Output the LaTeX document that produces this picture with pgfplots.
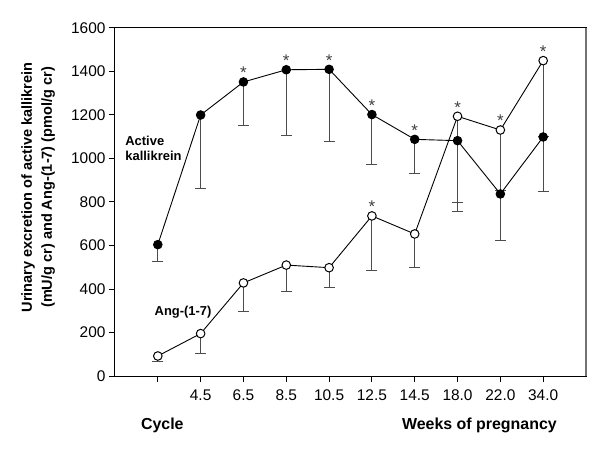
\documentclass[border=0pt]{standalone}
\usepackage{fontspec}
\setmainfont{Liberation Sans}
\usepackage{pgfplots}
\usepackage{pgfplotstable}
\pgfplotsset{compat=1.18}

% means and lower ends of the error bars, category index 0 = cycle
\pgfplotstableread{
x   y     lo
0   604   525
1   1200  860
2   1352  1151
3   1408  1108
4   1410  1077
5   1202  972
6   1088  930
7   1082  755
8   837   622
9   1099  847
}\kallikrein
\pgfplotstableread{
x   y     lo
0   92    67
1   195   104
2   428   296
3   510   388
4   498   406
5   736   484
6   653   498
7   1194  798
8   1131  855
9   1450  1100
}\ang

\begin{document}
\begin{tikzpicture}
\begin{axis}[
    scale only axis,
    width=471bp, height=348bp,
    xmin=-1, xmax=10,
    ymin=0, ymax=1600,
    xtick={0,...,9},
    xticklabels={,4.5,6.5,8.5,10.5,12.5,14.5,18.0,22.0,34.0},
    ytick={0,200,...,1600},
    tick pos=left,
    tick align=outside,
    major tick length=6bp,
    axis line style={line width=1bp},
    every tick/.style={line width=1bp, black},
    /pgf/number format/assume math mode=true,
    /pgf/number format/1000 sep={},
    ticklabel style={font=\fontsize{15.5}{18}\selectfont},
    xticklabel style={yshift=-4bp},
    every axis y label/.style={at={(axis description cs:-0.163,0.542)},
        rotate=90, anchor=center, align=center,
        font=\fontsize{14.6}{20}\selectfont\bfseries},
    ylabel={Urinary excretion of active kallikrein\\(mU/g cr) and Ang-(1-7) (pmol/g cr)},
    clip=false,
]
% Ang-(1-7), open circles
\addplot[black, line width=0.9bp, mark=*, mark size=4.3bp,
    mark options={fill=white, line width=1bp},
    error bars/.cd, y dir=minus, y explicit,
    error mark options={rotate=90, mark size=5.5bp, line width=1bp, black!70},
    error bar style={line width=1bp, black!70}]
    table[x=x, y=y, y error expr=\thisrow{y}-\thisrow{lo}] {\ang};
% active kallikrein, filled circles
\addplot[black, line width=0.9bp, mark=*, mark size=4.3bp,
    mark options={fill=black},
    error bars/.cd, y dir=minus, y explicit,
    error mark options={rotate=90, mark size=5.5bp, line width=1bp, black!70},
    error bar style={line width=1bp, black!70}]
    table[x=x, y=y, y error expr=\thisrow{y}-\thisrow{lo}] {\kallikrein};

% significance stars
\addplot[draw=none, mark=none, nodes near coords={*},
    every node near coord/.style={anchor=base, yshift=3.2bp, inner sep=0pt,
        font=\fontsize{17}{19}\selectfont, black!75}]
    coordinates {(2,1352) (3,1408) (4,1410) (5,1202) (6,1088)
                 (5,736) (7,1194) (8,1131) (9,1450)};

\draw[black!55, line width=2bp] (rel axis cs:1,0) -- (rel axis cs:1,1);

\node[anchor=base west, align=left, font=\fontsize{13}{15}\selectfont\bfseries]
    at (axis cs:-0.84,993) {Active\\kallikrein};
\node[anchor=base, font=\fontsize{13}{15}\selectfont\bfseries]
    at (axis cs:0.59,278) {Ang-(1-7)};
\node[anchor=base, font=\fontsize{16}{18}\selectfont\bfseries]
    at (axis cs:0.105,-248) {Cycle};
\node[anchor=base, font=\fontsize{16}{18}\selectfont\bfseries]
    at (axis cs:7.51,-248) {Weeks of pregnancy};
\end{axis}
\pgfresetboundingbox
\path (-115bp,-83bp) rectangle (485bp,376bp);
\end{tikzpicture}
\end{document}
